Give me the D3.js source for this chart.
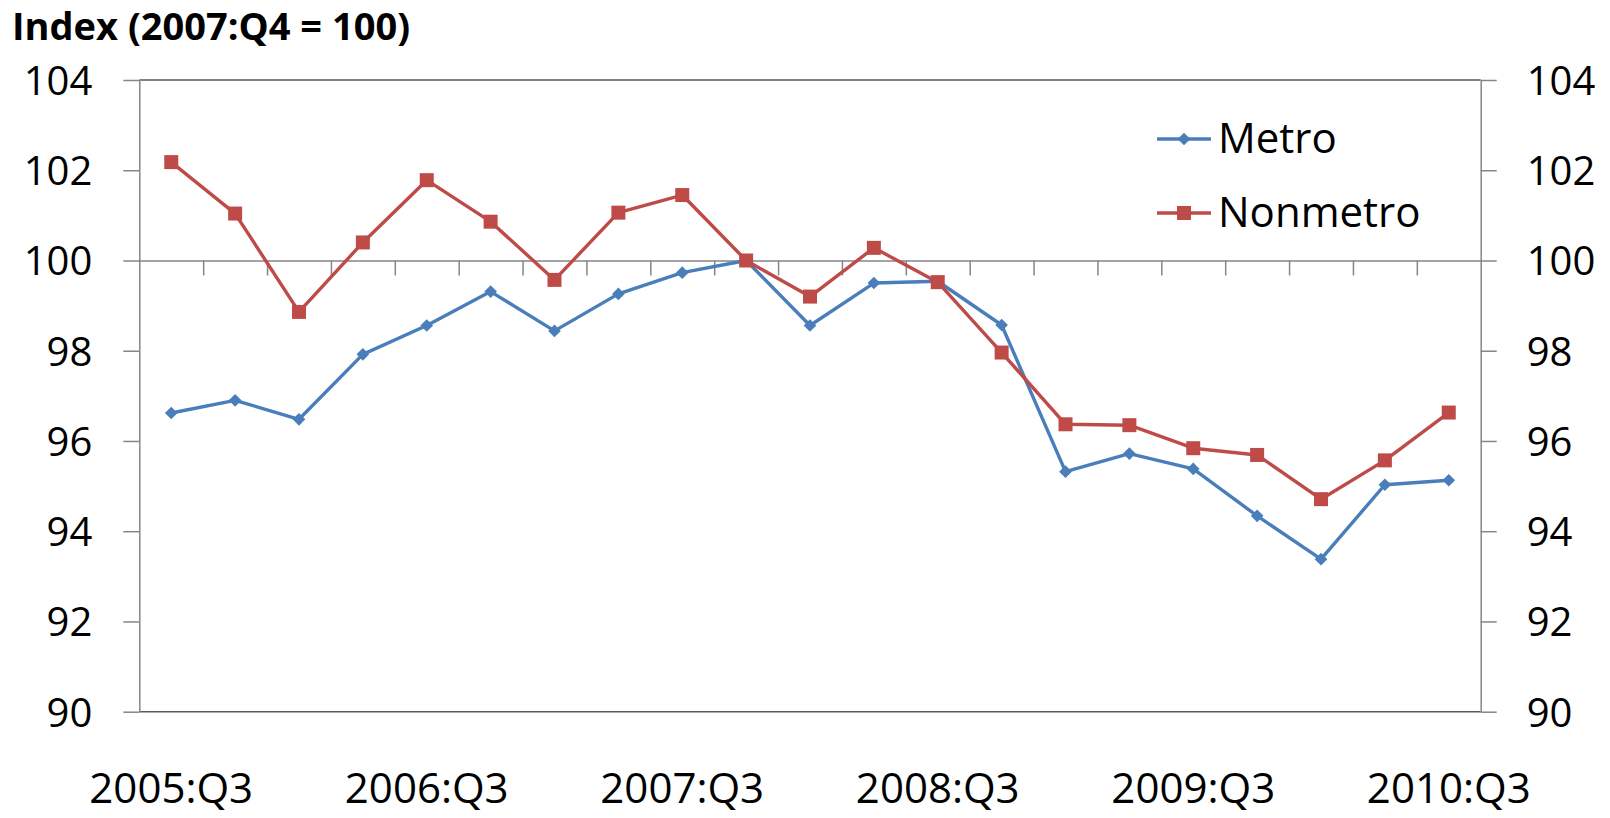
<!DOCTYPE html>
<html>
<head>
<meta charset="utf-8">
<script src="https://cdn.jsdelivr.net/npm/d3@7"></script>
<style>
  body { margin: 0; background: #fff; }
  svg { display: block; font-family: "Open Sans", sans-serif; }
</style>
</head>
<body>
<div id="chart"></div>
<script>
/*
------------------------------
DATA: quarters and index values (2007:Q4 = 100)
------------------------------
*/
const quarters = [
  "2005:Q3", "2005:Q4", "2006:Q1", "2006:Q2", "2006:Q3", "2006:Q4", "2007:Q1",
  "2007:Q2", "2007:Q3", "2007:Q4", "2008:Q1", "2008:Q2", "2008:Q3", "2008:Q4",
  "2009:Q1", "2009:Q2", "2009:Q3", "2009:Q4", "2010:Q1", "2010:Q2", "2010:Q3"
];
const metro = [
  96.62, 96.90, 96.48, 97.92, 98.56, 99.31, 98.44, 99.26, 99.73, 100.0, 98.56,
  99.50, 99.54, 98.57, 95.32, 95.72, 95.38, 94.34, 93.38, 95.03, 95.13
];
const nonmetro = [
  102.18, 101.04, 98.86, 100.40, 101.78, 100.86, 99.57, 101.06, 101.45, 100.0, 99.20,
  100.28, 99.52, 97.96, 96.37, 96.35, 95.84, 95.69, 94.71, 95.57, 96.63
];
const xLabels = ["2005:Q3", "2006:Q3", "2007:Q3", "2008:Q3", "2009:Q3", "2010:Q3"];
const yTicks = [90, 92, 94, 96, 98, 100, 102, 104];
const seriesNames = ["Metro", "Nonmetro"];

/*
------------------------------
METHOD: set the size of the canvas
------------------------------
*/
const width = 1610;
const height = 818;
const margin = { top: 80, left: 139.3, right: 129.3, bottom: 106.3 };

const colors = { Metro: "#4a7ebb", Nonmetro: "#be4b48" };
const series = [
  { name: seriesNames[0], values: metro, symbol: "diamond" },
  { name: seriesNames[1], values: nonmetro, symbol: "square" }
];

const svg = d3.select("#chart")
  .append("svg")
  .attr("width", width)
  .attr("height", height);

const x = d3.scaleBand()
  .domain(quarters)
  .range([margin.left, width - margin.right]);

const y = d3.scaleLinear()
  .domain([90, 104])
  .range([height - margin.bottom, margin.top]);

// boundaries between quarters, for the tick marks on the 100 line
const xEdge = d3.scaleLinear()
  .domain([0, quarters.length])
  .range(x.range());

// title
svg.append("text")
  .attr("x", 12)
  .attr("y", 40)
  .attr("font-size", 38)
  .attr("font-weight", 700)
  .attr("fill", "#000")
  .text("Index (2007:Q4 = 100)");

// top and bottom frame
svg.append("g")
  .selectAll("line")
  .data([104, 90])
  .join("line")
  .attr("x1", x.range()[0])
  .attr("x2", x.range()[1])
  .attr("y1", d => y(d))
  .attr("y2", d => y(d))
  .attr("stroke", "#5a5a5a")
  .attr("stroke-width", 1.5);

// left axis
svg.append("g")
  .attr("transform", `translate(${margin.left},0)`)
  .call(d3.axisLeft(y).tickValues(yTicks).tickSize(16).tickSizeOuter(0).tickPadding(31))
  .call(g => g.select(".domain").attr("stroke", "#868686").attr("stroke-width", 1.5))
  .call(g => g.selectAll(".tick line").attr("stroke", "#868686").attr("stroke-width", 1.5))
  .call(g => g.selectAll(".tick text")
    .attr("font-size", 40).attr("font-family", "Open Sans").attr("fill", "#000").attr("dy", "0.36em"));

// right axis
svg.append("g")
  .attr("transform", `translate(${width - margin.right},0)`)
  .call(d3.axisRight(y).tickValues(yTicks).tickSize(16).tickSizeOuter(0).tickPadding(30))
  .call(g => g.select(".domain").attr("stroke", "#868686").attr("stroke-width", 1.5))
  .call(g => g.selectAll(".tick line").attr("stroke", "#868686").attr("stroke-width", 1.5))
  .call(g => g.selectAll(".tick text")
    .attr("font-size", 40).attr("font-family", "Open Sans").attr("fill", "#000").attr("dy", "0.36em"));

// category axis crossing at 100
svg.append("g")
  .attr("transform", `translate(0,${y(100)})`)
  .call(d3.axisBottom(xEdge).tickValues(d3.range(1, quarters.length)).tickSize(15).tickSizeOuter(0).tickFormat(""))
  .call(g => g.select(".domain").attr("stroke", "#868686").attr("stroke-width", 1.5))
  .call(g => g.selectAll(".tick line").attr("stroke", "#868686").attr("stroke-width", 1.5));

// category labels under the plot (band axis already centres each tick)
svg.append("g")
  .attr("transform", `translate(0,${height - margin.bottom})`)
  .call(d3.axisBottom(x).tickValues(xLabels).tickSize(0))
  .call(g => g.select(".domain").remove())
  .call(g => g.selectAll(".tick text")
    .attr("y", 91).attr("dy", 0)
    .attr("font-size", 42).attr("font-family", "Open Sans").attr("fill", "#000"));

/*
------------------------------
METHOD: draw the lines and markers
------------------------------
*/
const line = d3.line()
  .x((d, i) => x(quarters[i]) + x.bandwidth() / 2)
  .y(d => y(d));

const symbolFor = {
  diamond: { path: d3.symbol(d3.symbolSquare, 80)(), rotate: 45 },
  square: { path: d3.symbol(d3.symbolSquare, 196)(), rotate: 0 }
};

const plot = svg.append("g");

plot.selectAll(".series")
  .data(series)
  .join("path")
  .attr("class", "series")
  .attr("fill", "none")
  .attr("stroke", d => colors[d.name])
  .attr("stroke-width", 3.4)
  .attr("stroke-linejoin", "round")
  .attr("d", d => line(d.values));

series.forEach(s => {
  plot.append("g")
    .selectAll("path")
    .data(s.values)
    .join("path")
    .attr("d", symbolFor[s.symbol].path)
    .attr("transform", (d, i) =>
      `translate(${x(quarters[i]) + x.bandwidth() / 2},${y(d)}) rotate(${symbolFor[s.symbol].rotate})`)
    .attr("fill", colors[s.name]);
});

/*
------------------------------
METHOD: legend
------------------------------
*/
const legend = svg.append("g")
  .selectAll("g")
  .data(series)
  .join("g")
  .attr("transform", (d, i) => `translate(1157,${139 + i * 74})`);

legend.append("line")
  .attr("x1", 0)
  .attr("x2", 54)
  .attr("stroke", d => colors[d.name])
  .attr("stroke-width", 3.4);

legend.append("path")
  .attr("d", d => symbolFor[d.symbol].path)
  .attr("transform", d => `translate(27,0) rotate(${symbolFor[d.symbol].rotate})`)
  .attr("fill", d => colors[d.name]);

legend.append("text")
  .attr("x", 61)
  .attr("y", 14)
  .attr("font-size", 42)
  .attr("fill", "#000")
  .text(d => d.name);
</script>
</body>
</html>
